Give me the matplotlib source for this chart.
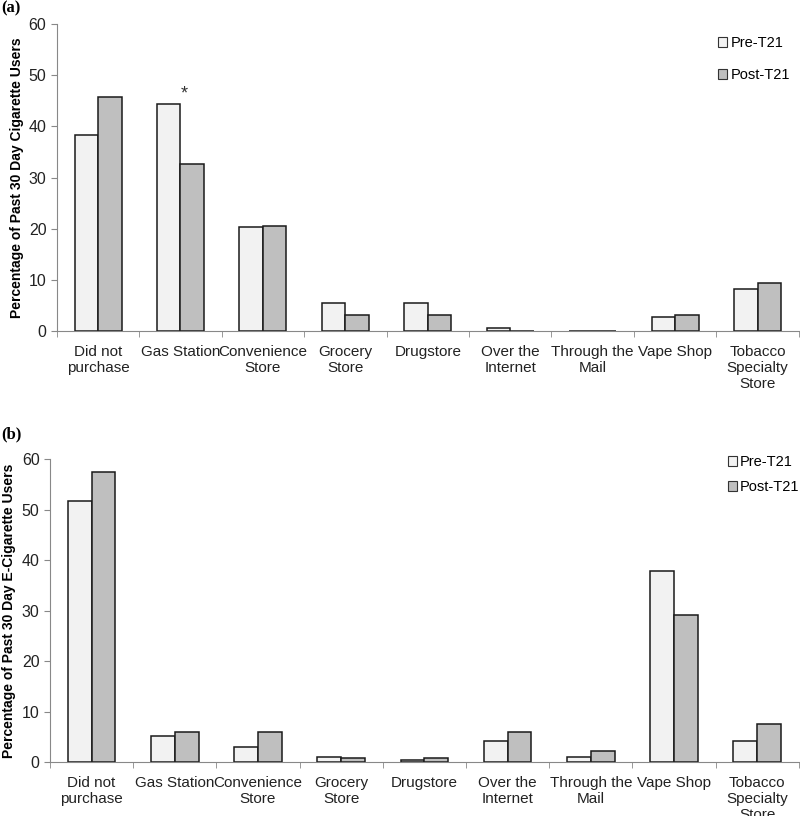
import numpy as np
import matplotlib.pyplot as plt
from matplotlib.patches import Patch

plt.rcParams['font.family'] = ['Liberation Sans', 'DejaVu Sans']

categories = ["Did not\npurchase", "Gas Station", "Convenience\nStore", "Grocery\nStore",
              "Drugstore", "Over the\nInternet", "Through the\nMail", "Vape Shop",
              "Tobacco\nSpecialty\nStore"]

cig_pre = [38.3, 44.4, 20.4, 5.4, 5.4, 0.6, 0.0, 2.7, 8.2]
cig_post = [45.8, 32.6, 20.6, 3.1, 3.1, 0.0, 0.0, 3.1, 9.4]

ecig_pre = [51.8, 5.2, 3.0, 1.05, 0.46, 4.2, 1.05, 37.8, 4.2]
ecig_post = [57.4, 5.9, 5.9, 0.73, 0.73, 5.9, 2.2, 29.1, 7.5]

series_names = ["Pre-T21", "Post-T21"]
colors = ["#f2f2f2", "#bfbfbf"]


def draw_panel(ax, pre, post, ylabel, legend_anchor, spacing, label_x):
    x = np.arange(len(categories))
    w = 0.285
    ax.bar(x - w / 2, pre, w, color=colors[0], edgecolor="#1a1a1a", linewidth=1.1)
    ax.bar(x + w / 2, post, w, color=colors[1], edgecolor="#1a1a1a", linewidth=1.1)
    ax.set_xlim(-0.5, len(categories) - 0.5)
    ax.set_ylim(0, 60)
    ax.set_yticks(range(0, 61, 10))
    ax.set_xticks(x)
    ax.set_xticklabels(categories, fontsize=11, color="#222222")
    ax.set_xticks(np.arange(-0.5, len(categories), 1), minor=True)
    ax.tick_params(axis="x", which="major", length=0, pad=10)
    ax.tick_params(axis="x", which="minor", length=4, color="#888888")
    ax.tick_params(axis="y", length=4, color="#888888", labelsize=11.5, labelcolor="#222222")
    for s in ["top", "right"]:
        ax.spines[s].set_visible(False)
    for s in ["left", "bottom"]:
        ax.spines[s].set_color("#888888")
    ax.set_ylabel(ylabel, fontsize=10, fontweight="bold")
    ax.yaxis.set_label_coords(label_x, 0.5)
    handles = [Patch(facecolor=c, edgecolor="#333333", linewidth=0.8) for c in colors]
    ax.legend(handles, series_names, loc="upper left", bbox_to_anchor=legend_anchor,
              frameon=False, fontsize=10.5, handlelength=0.65, handleheight=0.65,
              handletextpad=0.2, labelspacing=spacing, borderpad=0, borderaxespad=0)


fig = plt.figure(figsize=(8, 8.16), dpi=100)

ax1 = fig.add_axes([0.071, 0.5944, 0.9275, 0.376])
draw_panel(ax1, cig_pre, cig_post, "Percentage of Past 30 Day Cigarette Users", (0.891, 0.961), 1.25, -0.0445)
ax1.text(1.05, 46.3, "*", ha="center", va="center", fontsize=13, color="#333333")

ax2 = fig.add_axes([0.0625, 0.0662, 0.936, 0.371])
draw_panel(ax2, ecig_pre, ecig_post, "Percentage of Past 30 Day E-Cigarette Users", (0.905, 1.014), 0.75, -0.0454)

fig.text(0.002, 0.999, "(a)", fontsize=12, fontweight="bold", family="Liberation Serif", va="top")
fig.text(0.002, 0.478, "(b)", fontsize=12, fontweight="bold", family="Liberation Serif", va="top")

fig.savefig("out.png", dpi=100)
